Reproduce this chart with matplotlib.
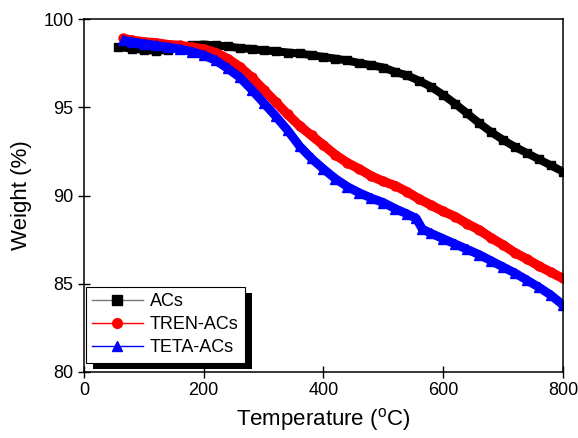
import matplotlib
matplotlib.use('Agg')
import matplotlib.pyplot as plt
from matplotlib.lines import Line2D
from matplotlib.patches import Rectangle
from matplotlib.transforms import IdentityTransform

plt.rcParams['font.family'] = ['Liberation Sans', 'DejaVu Sans']
plt.rcParams['mathtext.fontset'] = 'custom'
plt.rcParams['mathtext.rm'] = 'Liberation Sans'

# temperature (C) and weight (%)
t_acs = [57, 80, 100, 120, 140, 160, 180, 200, 220, 240, 260, 280, 300, 320, 340,
         360, 380, 400, 420, 440, 460, 480, 500, 520, 540, 560, 580, 600, 620, 640,
         660, 680, 700, 720, 740, 760, 780, 800]
w_acs = [98.42, 98.32, 98.25, 98.2, 98.25, 98.4, 98.52, 98.55, 98.5, 98.45, 98.35,
         98.3, 98.22, 98.18, 98.1, 98.05, 97.95, 97.85, 97.75, 97.65, 97.5, 97.38,
         97.25, 97.0, 96.8, 96.5, 96.15, 95.7, 95.2, 94.65, 94.1, 93.6, 93.15, 92.75,
         92.4, 92.05, 91.7, 91.35]

t_tren = [65, 80, 100, 120, 140, 160, 180, 200, 220, 240, 260, 280, 300, 320, 340,
          360, 380, 400, 420, 440, 460, 480, 500, 520, 540, 560, 580, 600, 620, 640,
          660, 680, 700, 720, 740, 760, 780, 800]
w_tren = [98.9, 98.8, 98.7, 98.65, 98.55, 98.5, 98.4, 98.3, 98.1, 97.75, 97.3, 96.7,
          96.0, 95.3, 94.6, 93.95, 93.4, 92.85, 92.3, 91.85, 91.5, 91.1, 90.8, 90.55,
          90.2, 89.8, 89.45, 89.1, 88.8, 88.4, 88.05, 87.6, 87.2, 86.75, 86.4, 86.0,
          85.65, 85.3]

t_teta = [65, 80, 100, 120, 140, 160, 180, 200, 220, 240, 260, 280, 300, 320, 340,
          360, 380, 400, 420, 440, 460, 480, 500, 520, 540, 555, 565, 580, 600, 620,
          640, 660, 680, 700, 720, 740, 760, 780, 800]
w_teta = [98.8, 98.7, 98.6, 98.5, 98.4, 98.3, 98.15, 97.95, 97.65, 97.2, 96.7, 96.0,
          95.25, 94.5, 93.7, 92.8, 92.1, 91.5, 90.95, 90.5, 90.15, 89.85, 89.6, 89.25,
          88.95, 88.7, 88.1, 87.85, 87.55, 87.25, 86.95, 86.65, 86.3, 85.95, 85.6,
          85.2, 84.8, 84.35, 83.8]

labels = ['ACs', 'TREN-ACs', 'TETA-ACs']
colors = ['black', 'red', 'blue']
markers = ['s', 'o', '^']

fig = plt.figure(figsize=(5.78, 4.38), dpi=100)
ax = fig.add_axes([0.1453, 0.1507, 0.8287, 0.8059])

series = [(t_acs, w_acs), (t_tren, w_tren), (t_teta, w_teta)]
widths = [5.8, 6.8, 6.4]
sizes = [5.5, 6.5, 6.5]
for (t, w), c, m, lw, ms in zip(series, colors, markers, widths, sizes):
    ax.plot(t, w, color=c, lw=lw, marker=m, ms=ms, mec=c, mfc=c,
            solid_capstyle='butt', solid_joinstyle='round')

ax.set_xlim(0, 800)
ax.set_ylim(80, 100)
ax.set_xticks([0, 200, 400, 600, 800])
ax.set_yticks([80, 85, 90, 95, 100])
ax.tick_params(direction='inout', length=8, width=1, labelsize=13, top=False, right=False)
for s in ax.spines.values():
    s.set_linewidth(1.1)

ax.set_xlabel(r'Temperature ($^{\rm o}$C)', fontsize=16, labelpad=5)
ax.set_ylabel('Weight (%)', fontsize=16, labelpad=8)

handles = [Line2D([], [], color=c, lw=1, marker=m, ms=7, mfc=mc, mec=mc)
           for c, m, mc in zip(['#777777', 'red', 'blue'], markers, colors)]
leg = ax.legend(handles, labels, loc='lower left', bbox_to_anchor=(0.004, 0.026),
                borderaxespad=0, fontsize=13, frameon=True, fancybox=False,
                framealpha=1, edgecolor='black', handlelength=2.8,
                handletextpad=0.4, borderpad=0.35, labelspacing=0.35)
leg.get_frame().set_linewidth(0.8)

fig.canvas.draw()
bb = leg.get_window_extent()
shadow = Rectangle((bb.x0 + 7, bb.y0 - 6), bb.width, bb.height, transform=IdentityTransform(),
                   facecolor='black', edgecolor='none', zorder=4.9, clip_on=False)
ax.add_artist(shadow)

fig.savefig('out.png', dpi=100)
